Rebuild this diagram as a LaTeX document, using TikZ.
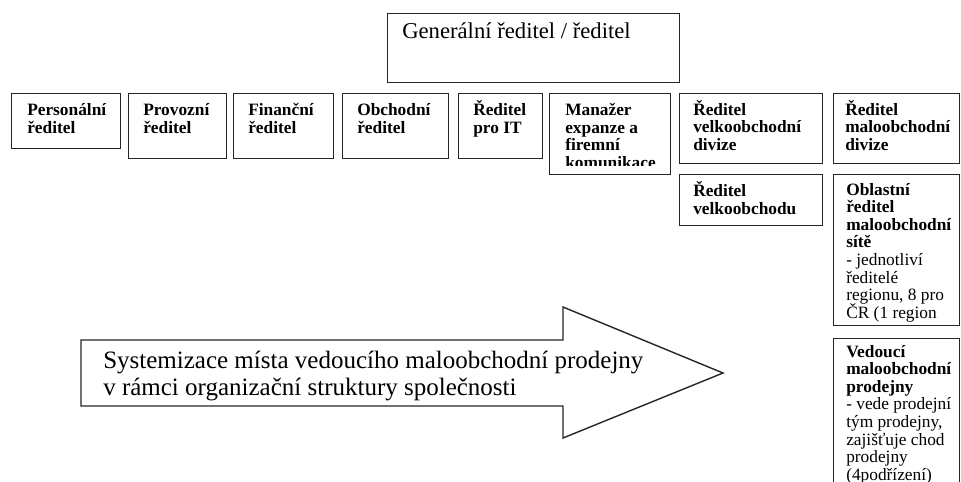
\documentclass[tikz,border=0pt]{standalone}
\usepackage{fontspec}
\setmainfont{Liberation Serif}
\newcommand\lns[1]{\vtop{\lineskiplimit=-\maxdimen\halign{##\hfil\cr#1\crcr}}}
\begin{document}
\begin{tikzpicture}[x=0.75pt,y=-0.75pt,
  boxline/.style={draw=black!85,line width=1.05pt},
  topline/.style={draw=black!85,line width=0.8pt},
  rect/.style={boxline,rectangle,inner sep=0pt,anchor=north west},
  btxt/.style={anchor=base west,inner sep=0pt,font=\fontsize{13}{13.2}\selectfont\bfseries},
  rtxt/.style={anchor=base west,inner sep=0pt,font=\fontsize{13}{13.2}\selectfont},
  toptxt/.style={anchor=base west,inner sep=0pt,font=\fontsize{17}{19}\selectfont},
  arrtxt/.style={anchor=base west,inner sep=0pt,font=\fontsize{18.75}{20.25}\selectfont}]
\useasboundingbox[fill=white] (0,0) rectangle (961,482);
% top box
\node[rect,topline,minimum width=292*0.75pt,minimum height=69*0.75pt] (top) at (387,13) {};
\node[toptxt] (toptext) at (402,38) {Generální ředitel / ředitel};
% row of boxes
\node[rect,minimum width=109*0.75pt,minimum height=55*0.75pt] (b1) at (11,93) {};
\node[btxt] (t1) at (27,115.7) {\lns{Personální\cr ředitel}};
\node[rect,minimum width=98*0.75pt,minimum height=65*0.75pt] (b2) at (128,93) {};
\node[btxt] (t2) at (143,115.7) {\lns{Provozní\cr ředitel}};
\node[rect,minimum width=100*0.75pt,minimum height=65*0.75pt] (b3) at (233,93) {};
\node[btxt] (t3) at (248,115.7) {\lns{Finanční\cr ředitel}};
\node[rect,minimum width=106*0.75pt,minimum height=65*0.75pt] (b4) at (342,93) {};
\node[btxt] (t4) at (357,115.7) {\lns{Obchodní\cr ředitel}};
\node[rect,minimum width=84*0.75pt,minimum height=65*0.75pt] (b5) at (458,93) {};
\node[btxt] (t5) at (473,115.7) {\lns{Ředitel\cr pro IT}};
\node[rect,minimum width=121*0.75pt,minimum height=81*0.75pt] (b6) at (549,93) {};
\begin{scope}
  \clip (549,93) rectangle (670,165);
  \node[btxt] (t6) at (565,115.7) {\lns{Manažer\cr expanze a\cr firemní\cr komunikace}};
\end{scope}
\node[rect,minimum width=143*0.75pt,minimum height=70*0.75pt] (b7) at (679,93) {};
\node[btxt] (t7) at (693,115) {\lns{Ředitel\cr velkoobchodní\cr divize}};
\node[rect,minimum width=126*0.75pt,minimum height=70*0.75pt] (b8) at (833,93) {};
\node[btxt] (t8) at (845,115) {\lns{Ředitel\cr maloobchodní\cr divize}};
\node[rect,minimum width=143*0.75pt,minimum height=51*0.75pt] (b9) at (679,174) {};
\node[btxt] (t9) at (693,196.7) {\lns{Ředitel\cr velkoobchodu}};
\node[rect,minimum width=126*0.75pt,minimum height=151*0.75pt] (b10) at (833,174) {};
\node[rtxt] (t10) at (846,195) {\lns{\textbf{Oblastní}\cr \textbf{ředitel}\cr \textbf{maloobchodní}\cr \textbf{sítě}\cr - jednotliví\cr ředitelé\cr regionu, 8 pro\cr ČR (1 region}};
\node[rect,minimum width=126*0.75pt,minimum height=160*0.75pt] (b11) at (833,338) {};
\node[rtxt] (t11) at (846,357) {\lns{\textbf{Vedoucí}\cr \textbf{maloobchodní}\cr \textbf{prodejny}\cr - vede prodejní\cr tým prodejny,\cr zajišťuje chod\cr prodejny\cr (4podřízení)}};
% big arrow
\draw[boxline,line join=miter] (81,340) -- (563,340) -- (563,307) -- (723,373)
  -- (563,438) -- (563,406) -- (81,406) -- cycle;
\node[arrtxt] (arrtext) at (103,368) {\lns{Systemizace místa vedoucího maloobchodní prodejny\cr v rámci organizační struktury společnosti}};
\end{tikzpicture}
\end{document}
